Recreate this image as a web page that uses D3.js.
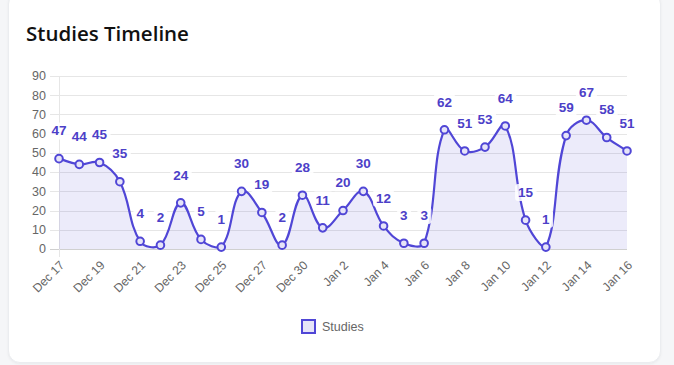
<!DOCTYPE html>
<html><head><meta charset="utf-8">
<script src="https://cdn.jsdelivr.net/npm/d3@7"></script>
<style>
html,body{margin:0;padding:0;background:#f5f6f8;width:674px;height:365px;overflow:hidden}
#card{position:absolute;left:8px;top:-8px;width:651px;height:369px;background:#fff;border:1px solid #ebedf0;border-radius:12px;box-shadow:0 1px 3px rgba(0,0,0,0.05)}
svg{position:absolute;left:0;top:0}
</style></head><body>
<div id="card"></div>
<svg id="chart" width="674" height="365"></svg>
<script>
const dates = ["Dec 17","Dec 18","Dec 19","Dec 20","Dec 21","Dec 22","Dec 23","Dec 24","Dec 25","Dec 26","Dec 27","Dec 28","Dec 30","Dec 31","Jan 2","Jan 3","Jan 4","Jan 5","Jan 6","Jan 7","Jan 8","Jan 9","Jan 10","Jan 11","Jan 12","Jan 13","Jan 14","Jan 15","Jan 16"];
const studies = [47,44,45,35,4,2,24,5,1,30,19,2,28,11,20,30,12,3,3,62,51,53,64,15,1,59,67,58,51];
const yTicks = [0,10,20,30,40,50,60,70,80,90];
const seriesName = "Studies";
const title = "Studies Timeline";

const lineColor = "#5046d6";
const fillColor = "rgba(80,70,214,0.11)";
const labelColor = "#4c40c8";

const svg = d3.select("#chart");
const pLeft = 59, pRight = 627, pTop = 76, pBottom = 249;

const x = d3.scalePoint().domain(d3.range(dates.length)).range([pLeft, pRight]);
const y = d3.scaleLinear().domain([0, 90]).range([pBottom, pTop]);

svg.append("text").attr("x", 26).attr("y", 41)
  .attr("font-family", "'Open Sans', sans-serif").attr("font-weight", 600)
  .attr("font-size", 20.5).attr("fill", "#111").text(title);

// grid
const gy = svg.append("g");
gy.selectAll("line").data(yTicks).join("line")
  .attr("x1", pLeft - 9).attr("x2", pRight)
  .attr("y1", d => Math.round(y(d)) + 0.5).attr("y2", d => Math.round(y(d)) + 0.5)
  .attr("stroke", d => d === 0 ? "#d0d0d0" : "#e6e6e6").attr("stroke-width", 1);
svg.append("line").attr("x1", pLeft + 0.5).attr("x2", pLeft + 0.5).attr("y1", pTop).attr("y2", pBottom + 8)
  .attr("stroke", "#e6e6e6");
gy.selectAll("text").data(yTicks).join("text")
  .attr("x", 46).attr("y", d => y(d)).attr("dy", "0.35em").attr("text-anchor", "end")
  .attr("font-family", "'Liberation Sans', Arial, sans-serif").attr("font-size", 12.5).attr("fill", "#666")
  .text(d => d);

// x labels every other
const xl = svg.append("g");
d3.range(0, dates.length, 2).forEach(i => {
  xl.append("text")
    .attr("transform", `translate(${x(i) + 3},${pBottom + 14}) rotate(-45)`)
    .attr("text-anchor", "end").attr("dy", "0.35em")
    .attr("font-family", "'Liberation Sans', Arial, sans-serif").attr("font-size", 12.2).attr("fill", "#666")
    .text(dates[i]);
});

// Chart.js-like spline
const pts = studies.map((v, i) => ({x: x(i), y: y(v)}));
const tension = 0.4;
pts.forEach((p, i) => {
  const prev = pts[i - 1] || p, next = pts[i + 1] || p;
  const d01 = Math.hypot(p.x - prev.x, p.y - prev.y);
  const d12 = Math.hypot(next.x - p.x, next.y - p.y);
  let s01 = d01 / (d01 + d12), s12 = d12 / (d01 + d12);
  s01 = isNaN(s01) ? 0 : s01; s12 = isNaN(s12) ? 0 : s12;
  const fa = tension * s01, fb = tension * s12;
  p.cpPrev = {x: p.x - fa * (next.x - prev.x), y: Math.min(pBottom, Math.max(pTop, p.y - fa * (next.y - prev.y)))};
  p.cpNext = {x: p.x + fb * (next.x - prev.x), y: Math.min(pBottom, Math.max(pTop, p.y + fb * (next.y - prev.y)))};
});
function buildPath(ctx) {
  ctx.moveTo(pts[0].x, pts[0].y);
  for (let i = 1; i < pts.length; i++) {
    const a = pts[i - 1], b = pts[i];
    ctx.bezierCurveTo(a.cpNext.x, a.cpNext.y, b.cpPrev.x, b.cpPrev.y, b.x, b.y);
  }
  return ctx;
}
const linePath = buildPath(d3.path()).toString();
const areaP = buildPath(d3.path());
areaP.lineTo(pts[pts.length - 1].x, y(0));
areaP.lineTo(pts[0].x, y(0));
areaP.closePath();

svg.append("path").attr("d", areaP.toString()).attr("fill", fillColor);
svg.append("path").attr("d", linePath).attr("fill", "none").attr("stroke", lineColor).attr("stroke-width", 2.2);

svg.append("g").selectAll("circle").data(studies).join("circle")
  .attr("cx", (d, i) => x(i)).attr("cy", d => y(d)).attr("r", 3.8)
  .attr("fill", "#e6e4f8").attr("stroke", lineColor).attr("stroke-width", 2);

// data labels
const lg = svg.append("g");
studies.forEach((v, i) => {
  const cx = x(i), cy = y(v) - 28;
  const g = lg.append("g");
  const t = g.append("text").attr("x", cx).attr("y", cy).attr("dy", "0.35em").attr("text-anchor", "middle")
    .attr("font-family", "'Liberation Sans', Arial, sans-serif").attr("font-weight", "bold").attr("font-size", 13.5)
    .attr("fill", labelColor).text(v);
  const bb = t.node().getBBox();
  g.insert("rect", "text").attr("x", bb.x - 3).attr("y", bb.y - 1).attr("width", bb.width + 6).attr("height", bb.height + 2)
    .attr("rx", 3).attr("fill", "rgba(255,255,255,0.85)");
});

// legend
const leg = svg.append("g");
leg.append("rect").attr("x", 302).attr("y", 320).attr("width", 13).attr("height", 13)
  .attr("fill", "#e6e4f8").attr("stroke", lineColor).attr("stroke-width", 2);
leg.append("text").attr("x", 322).attr("y", 327).attr("dy", "0.35em")
  .attr("font-family", "'Liberation Sans', Arial, sans-serif").attr("font-size", 12.5).attr("fill", "#666").text(seriesName);
</script>
</body></html>
